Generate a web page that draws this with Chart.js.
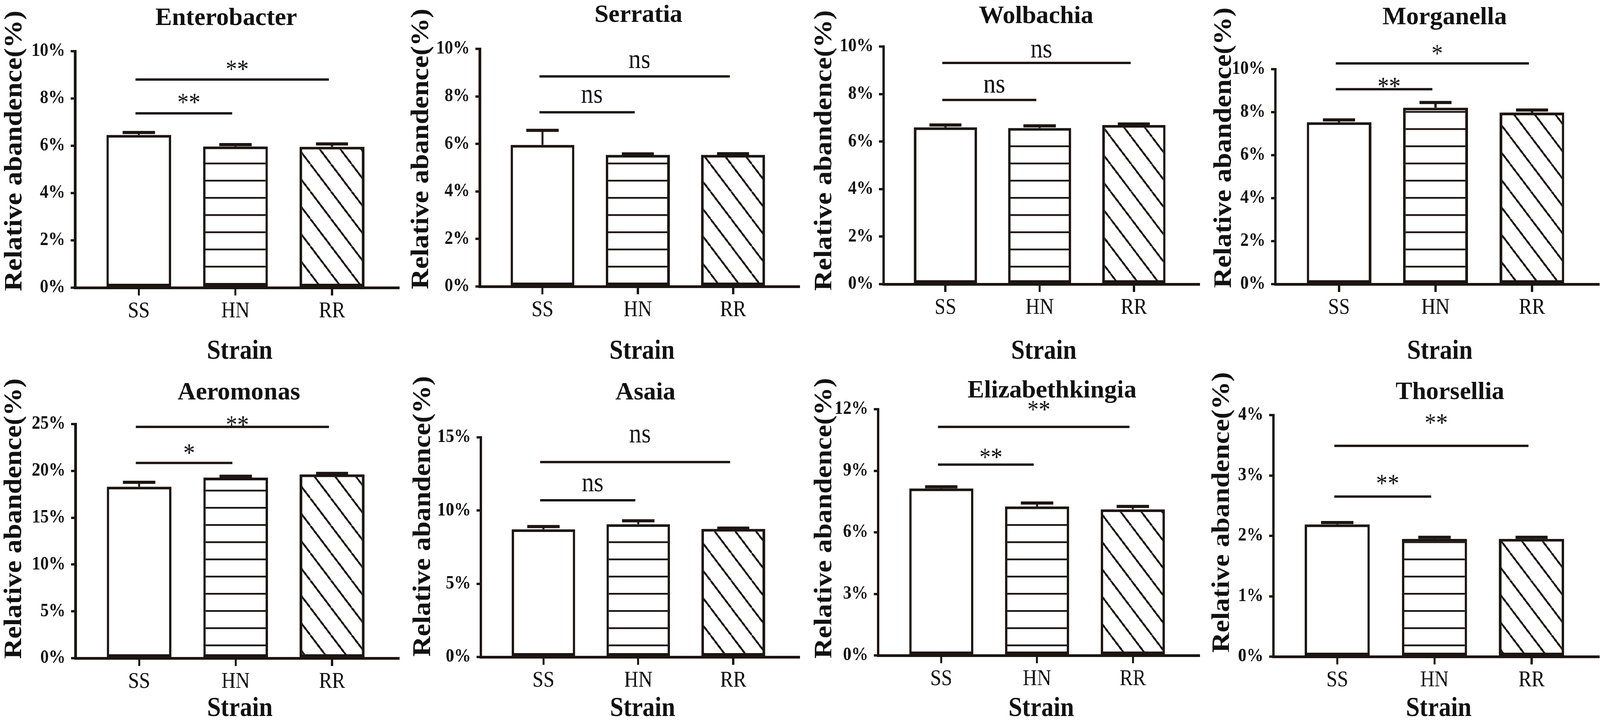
<!DOCTYPE html>
<html>
<head>
<meta charset="utf-8">
<title>Relative abandence by strain</title>
<script src="https://cdn.jsdelivr.net/npm/chart.js@4.4.1/dist/chart.umd.min.js"></script>
<style>
  html, body { margin: 0; padding: 0; background: #fff; overflow: hidden; }
  #wrap { position: absolute; left: 0; top: 0; width: 4563px; height: 1855px; overflow: hidden;
          background: #fff; transform-origin: 0 0; }
  canvas { position: absolute; }
</style>
</head>
<body>
<div id="wrap"></div>
<script>
// ---- data (% relative abundance) ----
const strains = ["SS", "HN", "RR"];
const genera = ["Enterobacter", "Serratia", "Wolbachia", "Morganella",
                "Aeromonas", "Asaia", "Elizabethkingia", "Thorsellia"];
const means = [
  [6.46, 5.97, 5.96],
  [5.96, 5.54, 5.54],
  [6.60, 6.57, 6.70],
  [7.53, 8.21, 7.98],
  [18.31, 19.28, 19.63],
  [8.72, 9.07, 8.75],
  [8.14, 7.26, 7.12],
  [2.19, 1.95, 1.95]
];
const errors = [
  [0.10, 0.08, 0.12],
  [0.61, 0.04, 0.05],
  [0.10, 0.09, 0.04],
  [0.11, 0.24, 0.12],
  [0.47, 0.15, 0.10],
  [0.19, 0.23, 0.05],
  [0.08, 0.17, 0.14],
  [0.03, 0.025, 0.025]
];
const yMax = [10, 10, 10, 10, 25, 15, 12, 4];
const yStep = [2, 2, 2, 2, 5, 5, 3, 1];
// significance brackets: SS vs HN, SS vs RR
const pairs = [[0, 1], [0, 2]];
const sigMarks = [
  ["**", "**"], ["ns", "ns"], ["ns", "ns"], ["**", "*"],
  ["*", "**"], ["ns", "ns"], ["**", "**"], ["**", "**"]
];
const sigLevels = [
  [7.37, 8.8], [7.33, 8.84], [7.75, 9.31], [9.07, 10.27],
  [20.85, 24.7], [10.7, 13.31], [9.3, 11.14], [2.65, 3.49]
];
const sigTextLevels = [
  [8.0, 9.4], [7.99, 9.46], [8.33, 9.8], [9.37, 10.9],
  [22.3, 25.3], [11.74, 15.08], [9.84, 12.17], [2.93, 3.93]
];

// ---- layout / style ----
const FIG_W = 4563, FIG_H = 1855;
const INK = "#1c1512";
const TEXT = "#111";
const SERIF = "'Liberation Serif', 'Times New Roman', serif";
const PANEL_W = 1141, PANEL_H = 930;
const rowTop = [0, 925];
const strainY = [900, 889];
const panelLayout = [
  { axisX: 214, top: 131, bottom: 736, titleX: 645, titleY: 47, ylabX: 42, ylabY: 386 },
  { axisX: 227, top: 125, bottom: 733, titleX: 680, titleY: 39, ylabX: 61, ylabY: 381 },
  { axisX: 237, top: 119, bottom: 727, titleX: 673, titleY: 42, ylabX: 70, ylabY: 385 },
  { axisX: 215, top: 177, bottom: 727, titleX: 698, titleY: 45, ylabX: 69, ylabY: 378 },
  { axisX: 215, top: 160, bottom: 759, titleX: 681, titleY: 80, ylabX: 41, ylabY: 402 },
  { axisX: 230, top: 194, bottom: 756, titleX: 700, titleY: 80, ylabX: 66, ylabY: 396 },
  { axisX: 222, top: 122, bottom: 752, titleX: 718, titleY: 75, ylabX: 70, ylabY: 401 },
  { axisX: 209, top: 137, bottom: 755, titleX: 713, titleY: 79, ylabX: 64, ylabY: 386 }
];

// the window may be narrower than the figure: fit the whole figure into it
const wrap = document.getElementById("wrap");
wrap.style.transform = "scale(" + (window.innerWidth / FIG_W) + "," + (window.innerHeight / FIG_H) + ")";

function hatchTile(kind) {
  const c = document.createElement("canvas");
  const g = c.getContext("2d");
  if (kind === "horizontal") {
    c.width = 8; c.height = 44;
    g.fillStyle = "#fff"; g.fillRect(0, 0, 8, 44);
    g.fillStyle = INK; g.fillRect(0, 20, 8, 4.5);
  } else {
    const w = 59, h = 70;
    c.width = w; c.height = h;
    g.fillStyle = "#fff"; g.fillRect(0, 0, w, h);
    g.strokeStyle = INK; g.lineWidth = 5;
    for (const dx of [-w, 0, w]) {
      g.beginPath(); g.moveTo(dx, 0); g.lineTo(dx + w, h); g.stroke();
    }
  }
  return c;
}

genera.forEach((name, k) => {
  const L = panelLayout[k];
  const row = k < 4 ? 0 : 1;
  const col = k % 4;
  const cv = document.createElement("canvas");
  cv.width = PANEL_W; cv.height = PANEL_H;
  cv.style.left = Math.round(col * FIG_W / 4) + "px";
  cv.style.top = rowTop[row] + "px";
  wrap.appendChild(cv);
  const ctx = cv.getContext("2d");

  const fills = [
    "#fff",
    ctx.createPattern(hatchTile("horizontal"), "repeat"),
    ctx.createPattern(hatchTile("diagonal"), "repeat")
  ];

  const decor = {
    id: "decor" + k,
    afterDatasetsDraw(chart) {
      const { ctx, scales: { x, y } } = chart;
      ctx.save();
      ctx.strokeStyle = INK;
      ctx.lineCap = "butt";
      // error bars (upper half only, like the figure)
      means[k].forEach((m, i) => {
        const px = x.getPixelForValue(i);
        const y0 = y.getPixelForValue(m);
        const y1 = y.getPixelForValue(m + errors[k][i]);
        ctx.lineWidth = 6;
        ctx.beginPath(); ctx.moveTo(px, y0); ctx.lineTo(px, y1); ctx.stroke();
        ctx.lineWidth = 8;
        ctx.beginPath(); ctx.moveTo(px - 46, y1); ctx.lineTo(px + 46, y1); ctx.stroke();
      });
      // significance brackets
      pairs.forEach(([a, b], j) => {
        const py = y.getPixelForValue(sigLevels[k][j]);
        const xa = x.getPixelForValue(a) - 9;
        const xb = x.getPixelForValue(b) - 9;
        ctx.lineWidth = 6;
        ctx.beginPath(); ctx.moveTo(xa, py); ctx.lineTo(xb, py); ctx.stroke();
        const t = sigMarks[k][j];
        ctx.font = (t === "ns" ? "70px " : "66px ") + SERIF;
        ctx.fillStyle = TEXT;
        ctx.textAlign = "center";
        ctx.textBaseline = "alphabetic";
        const mt = ctx.measureText(t);
        const ty = y.getPixelForValue(sigTextLevels[k][j]) +
          (mt.actualBoundingBoxAscent - mt.actualBoundingBoxDescent) / 2;
        ctx.fillText(t, (xa + xb) / 2 + 14, ty);
      });
      ctx.restore();
    },
    afterDraw(chart) {
      const { ctx, chartArea } = chart;
      ctx.save();
      ctx.fillStyle = TEXT;
      ctx.textAlign = "center";
      ctx.textBaseline = "middle";
      // panel title
      ctx.font = "bold 64px " + SERIF;
      ctx.save();
      ctx.translate(L.titleX, L.titleY);
      ctx.scale(1.12, 1);
      ctx.fillText(name, 0, 0);
      ctx.restore();
      // y axis title
      ctx.save();
      ctx.translate(L.ylabX, L.ylabY);
      ctx.rotate(-Math.PI / 2);
      ctx.font = "bold 72px " + SERIF;
      ctx.fillText("Relative abandence(%)", 0, 0);
      ctx.restore();
      // x axis title
      ctx.font = "bold 70px " + SERIF;
      ctx.fillText("Strain", (chartArea.left + chartArea.right) / 2 + 8, strainY[row]);
      ctx.restore();
    }
  };

  new Chart(cv, {
    type: "bar",
    data: {
      datasets: [{
        data: means[k].map((v, i) => ({ x: i, y: v })),
        backgroundColor: fills,
        borderColor: INK,
        borderWidth: 7,
        borderSkipped: false,
        barPercentage: 0.67,
        categoryPercentage: 1
      }]
    },
    options: {
      responsive: false,
      animation: false,
      devicePixelRatio: 1,
      events: [],
      layout: { padding: { top: L.top, right: 4, left: 0, bottom: 0 } },
      plugins: { legend: { display: false }, tooltip: { enabled: false } },
      scales: {
        x: {
          type: "linear",
          offset: false,
          min: -0.66,
          max: 2.69,
          afterBuildTicks: s => { s.ticks = strains.map((_, i) => ({ value: i })); },
          afterFit: s => { s.height = PANEL_H - L.bottom; },
          ticks: {
            callback: v => strains[v],
            color: TEXT,
            font: { family: SERIF, size: 56 },
            padding: 8,
            maxRotation: 0,
            autoSkip: false
          },
          grid: { offset: false, drawOnChartArea: false, drawTicks: true, tickLength: 20, lineWidth: 6, color: INK },
          border: { display: true, width: 7, color: INK }
        },
        y: {
          min: 0,
          max: yMax[k],
          afterFit: s => { s.width = L.axisX; },
          ticks: {
            stepSize: yStep[k],
            callback: v => v + "%",
            color: TEXT,
            font: { family: SERIF, size: 48, weight: "bold" },
            padding: 16
          },
          grid: { drawOnChartArea: false, drawTicks: true, tickLength: 12, lineWidth: 6, color: INK },
          border: { display: true, width: 7, color: INK }
        }
      }
    },
    plugins: [decor]
  });
});
</script>
</body>
</html>
